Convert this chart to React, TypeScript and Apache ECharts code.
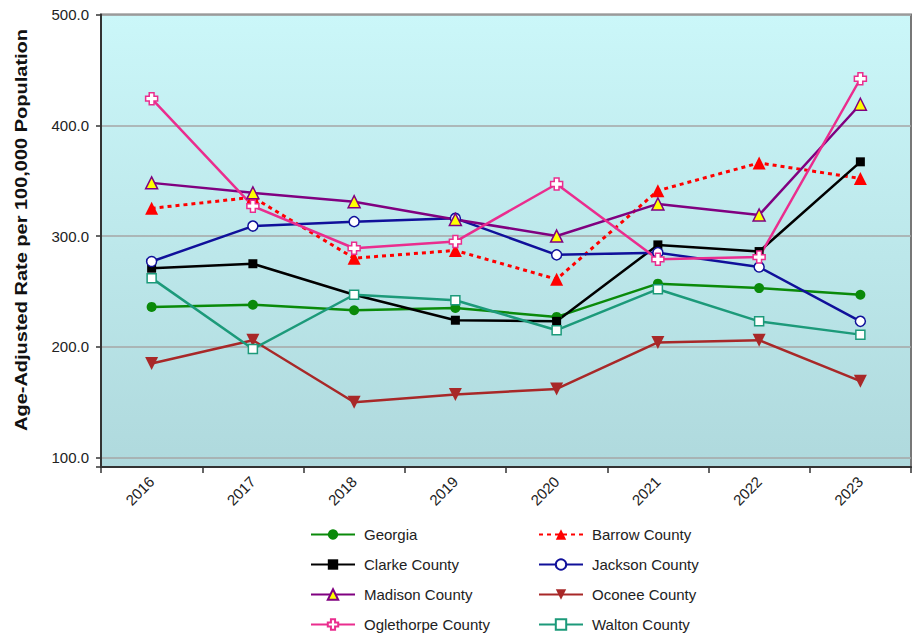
import React, { useEffect, useRef } from "react";
import * as echarts from "echarts";

const years = ["2016", "2017", "2018", "2019", "2020", "2021", "2022", "2023"];
const georgia = [236, 238, 233, 235, 227, 257, 253, 247];
const barrow = [325, 335, 280, 287, 261, 341, 366, 352];
const clarke = [271, 275, 247, 224, 223, 292, 286, 367];
const jackson = [277, 309, 313, 316, 283, 285, 272, 223];
const madison = [348, 339, 331, 315, 300, 329, 319, 419];
const oconee = [185, 206, 150, 157, 162, 204, 206, 169];
const oglethorpe = [424, 327, 289, 295, 347, 279, 281, 442];
const walton = [262, 198, 247, 242, 215, 252, 223, 211];

const legendCol1 = ["Georgia", "Clarke County", "Madison County", "Oglethorpe County"];
const legendCol2 = ["Barrow County", "Jackson County", "Oconee County", "Walton County"];

const yTitle = "Age-Adjusted Rate per 100,000 Population";
const FONT = "Arial, 'Liberation Sans', sans-serif";
const PLUS = "path://M3,0H7V3H10V7H7V10H3V7H0V3H3Z";

export default function App() {
  const ref = useRef<HTMLDivElement>(null);
  useEffect(() => {
    document.body.style.margin = "0";
    const chart = echarts.init(ref.current!, null, { renderer: "svg" });
    const line = (
      name: string,
      data: number[],
      color: string,
      symbol: string,
      size: number,
      fill: string,
      extra: any = {}
    ) => ({
      name,
      type: "line",
      data,
      symbol,
      symbolSize: size,
      showAllSymbol: true,
      lineStyle: { color, width: 2.5, ...(extra.lineStyle || {}) },
      itemStyle: { color: fill, borderColor: color, borderWidth: fill === color ? 0 : 1.5 },
      symbolRotate: extra.symbolRotate || 0,
      z: extra.z || 2,
    });
    const legendBase = {
      orient: "vertical",
      top: 527,
      padding: 0,
      height: 110,
      itemWidth: 44,
      itemHeight: 13,
      itemGap: 15,
      selectedMode: false,
      textStyle: { fontSize: 15, color: "#222", fontFamily: FONT, padding: [0, 0, 0, 4] },
    };
    chart.setOption({
      animation: false,
      backgroundColor: "#ffffff",
      grid: {
        left: 101,
        right: 5,
        top: 14.5,
        bottom: 170,
        show: true,
        borderColor: "#777",
        borderWidth: 2,
        backgroundColor: new echarts.graphic.LinearGradient(0, 0, 0, 1, [
          { offset: 0, color: "#cbf7f9" },
          { offset: 1, color: "#afd9dd" },
        ]),
      },
      xAxis: {
        type: "category",
        data: years,
        boundaryGap: true,
        axisLine: { lineStyle: { color: "#333", width: 2 } },
        axisTick: { show: true, length: 6, lineStyle: { color: "#333", width: 1.5 } },
        axisLabel: {
          rotate: 45,
          fontSize: 15,
          margin: 12,
          color: "#222",
          fontFamily: FONT,
        },
        splitLine: { show: false },
      },
      yAxis: {
        type: "value",
        min: 91.5,
        max: 500,
        minInterval: 100,
        maxInterval: 100,
        axisLine: { show: true, lineStyle: { color: "#333", width: 2 } },
        axisTick: { show: true, length: 5, lineStyle: { color: "#333", width: 1.5 } },
        axisLabel: {
          fontSize: 15,
          margin: 12,
          color: "#222",
          fontFamily: FONT,
          formatter: (v: number) => (Math.abs(v % 100) < 1e-6 ? v.toFixed(1) : ""),
        },
        splitLine: { show: true, lineStyle: { color: "#a6a6a6", width: 1.5 } },
      },
      legend: [
        { ...legendBase, left: 310, data: legendCol1 },
        { ...legendBase, left: 538, data: legendCol2 },
      ],
      graphic: [
        {
          type: "text",
          x: 21,
          y: 230,
          rotation: Math.PI / 2,
          scaleY: 0.85,
          style: {
            text: yTitle,
            font: `bold 20px ${FONT}`,
            fill: "#111",
            align: "center",
            verticalAlign: "middle",
          },
        },
      ],
      series: [
        line("Georgia", georgia, "#0a8a0a", "circle", 10, "#0a8a0a"),
        line("Barrow County", barrow, "#ff0000", "triangle", 13, "#ff0000", {
          lineStyle: { type: [4, 4], width: 3 },
        }),
        line("Clarke County", clarke, "#000000", "rect", 9, "#000000"),
        line("Jackson County", jackson, "#10109a", "circle", 10, "#ffffff"),
        line("Madison County", madison, "#800080", "triangle", 12, "#ffff00"),
        line("Oconee County", oconee, "#a82828", "triangle", 13, "#a82828", { symbolRotate: 180 }),
        line("Oglethorpe County", oglethorpe, "#ea2d8e", PLUS, 12, "#ffffff"),
        line("Walton County", walton, "#1c9a7a", "rect", 9, "#ffffff"),
      ],
    });
    return () => chart.dispose();
  }, []);
  return <div ref={ref} style={{ width: 916, height: 637 }} />;
}
